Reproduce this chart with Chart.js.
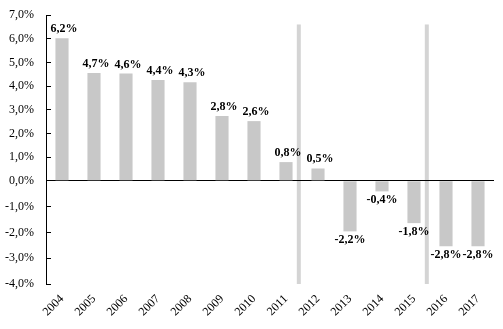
<!DOCTYPE html>
<html>
<head>
<meta charset="utf-8">
<script src="https://cdn.jsdelivr.net/npm/chart.js@4/dist/chart.umd.min.js"></script>
<style>
  html, body { margin: 0; padding: 0; background: #fff; }
  #wrap { width: 503px; height: 329px; position: relative; }
</style>
</head>
<body>
<div id="wrap"><canvas id="c" width="503" height="329"></canvas></div>
<script>
// ---- data ----
const categories = ['2004','2005','2006','2007','2008','2009','2010','2011','2012','2013','2014','2015','2016','2017'];
const barValues = [6.02, 4.55, 4.53, 4.26, 4.16, 2.74, 2.52, 0.79, 0.52, -1.96, -0.41, -1.64, -2.54, -2.54];
const valueLabels = ['6,2%','4,7%','4,6%','4,4%','4,3%','2,8%','2,6%','0,8%','0,5%','-2,2%','-0,4%','-1,8%','-2,8%','-2,8%'];
const yMin = -4;
const yMax = 7;
const yStep = 1;
const separatorPositions = [7.4, 11.4]; // in category index units
const separatorTop = 6.6;

// ---- scale whose negative part is drawn slightly taller per unit than positive part ----
const NEG_SHARE = 0.3836;
class SplitLinearScale extends Chart.LinearScale {
  getPixelForValue(v) {
    if (v === null || v === undefined || isNaN(v)) return NaN;
    let dec;
    if (v >= 0) dec = NEG_SHARE + (v / this.max) * (1 - NEG_SHARE);
    else dec = NEG_SHARE * (1 - v / this.min);
    return this.getPixelForDecimal(dec);
  }
  getValueForPixel(p) {
    const dec = this.getDecimalForPixel(p);
    if (dec >= NEG_SHARE) return (dec - NEG_SHARE) / (1 - NEG_SHARE) * this.max;
    return (1 - dec / NEG_SHARE) * this.min;
  }
}
SplitLinearScale.id = 'splitLinear';
SplitLinearScale.defaults = Chart.LinearScale.defaults;
Chart.register(SplitLinearScale);

const FONT = "'Liberation Serif', 'Times New Roman', serif";

const separatorPlugin = {
  id: 'separators',
  beforeDraw(chart) {
    const x = chart.scales.x, y = chart.scales.y;
    const ctx = chart.ctx;
    const step = x.getPixelForValue(1) - x.getPixelForValue(0);
    ctx.save();
    ctx.fillStyle = '#d4d4d4';
    separatorPositions.forEach(p => {
      const i = Math.floor(p);
      const px = x.getPixelForValue(i) + (p - i) * step;
      const top = y.getPixelForValue(separatorTop);
      const bot = y.getPixelForValue(yMin);
      ctx.fillRect(px - 2, top, 4, bot - top);
    });
    ctx.restore();
  }
};

const labelPlugin = {
  id: 'valueLabels',
  afterDatasetsDraw(chart) {
    const ctx = chart.ctx;
    const meta = chart.getDatasetMeta(0);
    ctx.save();
    ctx.font = 'bold 12px ' + FONT;
    ctx.fillStyle = '#000';
    ctx.textAlign = 'center';
    meta.data.forEach((bar, i) => {
      const v = barValues[i];
      if (v >= 0) {
        ctx.textBaseline = 'alphabetic';
        ctx.fillText(valueLabels[i], bar.x + 2, bar.y - 6);
      } else {
        ctx.textBaseline = 'top';
        ctx.fillText(valueLabels[i], bar.x, bar.y + 3);
      }
    });
    ctx.restore();
  }
};

new Chart(document.getElementById('c'), {
  type: 'bar',
  data: {
    labels: categories,
    datasets: [{
      data: barValues,
      backgroundColor: '#c8c8c8',
      borderWidth: 0,
      categoryPercentage: 1,
      barPercentage: 0.41
    }]
  },
  options: {
    responsive: false,
    animation: false,
    events: [],
    layout: { padding: { top: 15, right: 9, left: 0, bottom: 0 } },
    plugins: { legend: { display: false }, tooltip: { enabled: false } },
    scales: {
      x: {
        type: 'category',
        offset: true,
        grid: { display: false },
        border: { display: false },
        ticks: {
          color: '#000',
          font: { family: FONT, size: 12 },
          minRotation: 45,
          maxRotation: 45,
          padding: 0,
          autoSkip: false
        },
        afterFit(s) { s.height = 45; s.paddingLeft = 0; s.paddingRight = 0; }
      },
      y: {
        type: 'splitLinear',
        min: yMin,
        max: yMax,
        grid: {
          color: c => (c.tick && c.tick.value === 0) ? '#000' : 'rgba(0,0,0,0)',
          tickColor: '#000',
          tickLength: -5,
          lineWidth: 1
        },
        border: { display: true, color: '#000', width: 1 },
        ticks: {
          stepSize: yStep,
          color: '#000',
          font: { family: FONT, size: 12 },
          padding: 17,
          callback: v => v.toFixed(1).replace('.', ',') + '%'
        },
        afterFit(s) { s.width = 46; s.paddingTop = 0; s.paddingBottom = 0; }
      }
    }
  },
  plugins: [separatorPlugin, labelPlugin]
});
</script>
</body>
</html>
